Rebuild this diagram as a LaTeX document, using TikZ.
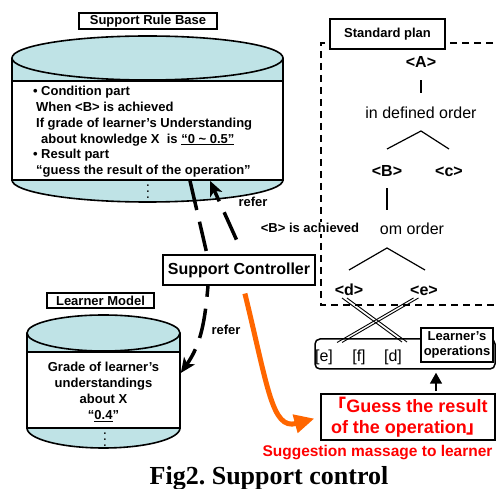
\documentclass[tikz,border=0pt]{standalone}
\usepackage{fontspec}
\setmainfont{Liberation Sans}
\newfontfamily\capfont{Liberation Serif}
\newfontfamily\cjk{Noto Sans CJK JP}
\usetikzlibrary{arrows.meta, positioning}
\definecolor{cylblue}{RGB}{191,227,230}
\definecolor{sugorange}{RGB}{255,102,0}
\frenchspacing

\begin{document}
\begin{tikzpicture}[x=1pt, y=1pt,
		bf/.style={font=\bfseries\fontsize{13}{15.8}\selectfont},
		namebox/.style={draw, line width=1.2pt, fill=white, inner sep=0pt, bf},
		leaf/.style={inner sep=0pt, text height=11pt, text depth=0pt, font=\bfseries\fontsize{16}{18}\selectfont},
		order/.style={inner sep=0pt, text height=11pt, text depth=0pt, font=\fontsize{16}{18}\selectfont},
		refer/.style={line width=3.5pt, dash pattern=on 30pt off 12pt},
		bighead/.style={-{Stealth[length=15pt, width=13pt, inset=4pt]}}]
		\clip (0,0) rectangle (496,488);

		% support rule base
		\fill[cylblue] (12,430) -- (12,308) arc[start angle=180, end angle=360, x radius=135.5, y radius=22] -- (283,430) arc[start angle=0, end angle=180, x radius=135.5, y radius=22] -- cycle;
		\draw[line width=1.6pt] (147.5,430) ellipse [x radius=135.5, y radius=22];
		\draw[line width=1.6pt] (12,430) -- (12,308) arc[start angle=180, end angle=360, x radius=135.5, y radius=22] -- (283,430);
		\node[draw, line width=1.6pt, fill=white, minimum width=271pt, minimum height=99pt, inner sep=0pt] (rule) at (147.5,357.5) {};
		\node[bf, align=left, anchor=north west, inner sep=0pt] (ruletext) at (33,402) {\makebox[8pt][l]{•}Condition part\\
			\hspace*{3pt}When <B> is achieved\\
			\hspace*{3pt}If grade of learner’s Understanding\\
			\hspace*{8pt}about knowledge X\ \ is \underline{“0 \textasciitilde\ 0.5”}\\
			\makebox[8pt][l]{•}Result part\\
			\hspace*{3pt}“guess the result of the operation”};
		\node[inner sep=0pt] (rdots) at (148,301) {\scalebox{1.5}{$\vdots$}};
		\node[namebox, minimum width=138pt, minimum height=16pt] (rulename) at (148,467) {Support Rule Base};

		% learner model
		\fill[cylblue] (27,155) -- (27,60) arc[start angle=180, end angle=360, x radius=76.5, y radius=20] -- (180,155) arc[start angle=0, end angle=180, x radius=76.5, y radius=18] -- cycle;
		\draw[line width=1.6pt] (103.5,155) ellipse [x radius=76.5, y radius=18];
		\draw[line width=1.6pt] (27,155) -- (27,60) arc[start angle=180, end angle=360, x radius=76.5, y radius=20] -- (180,155);
		\node[draw, line width=1.6pt, fill=white, minimum width=153pt, minimum height=76pt, inner sep=0pt] (model) at (103.5,98) {};
		\node[bf, align=center, inner sep=0pt] (modeltext) at (103.5,96) {Grade of learner’s\\understandings\\about X\\“\underline{0.4}”};
		\node[inner sep=0pt] (mdots) at (105,53) {\scalebox{1.5}{$\vdots$}};
		\node[namebox, minimum width=107pt, minimum height=15pt] (modelname) at (100.5,187.5) {Learner Model};

		% standard plan
		\draw[line width=1.6pt, dash pattern=on 7pt off 5pt] (505,445) -- (321,445) -- (321,183) -- (505,183);
		\node[namebox, minimum width=115pt, minimum height=30pt] (plan) at (387.5,454) {Standard plan};
		\node[leaf] (A) at (421,426) {<A>};
		\node[order] (ord1) at (421,375) {in defined order};
		\node[leaf] (B) at (387,317) {<B>};
		\node[leaf] (c) at (449,317) {<c>};
		\node[order] (ord2) at (412,259) {om order};
		\node[leaf] (d) at (349,198) {<d>};
		\node[leaf] (e) at (424,198) {<e>};
		\coordinate (ap1) at (421,357);
		\coordinate (br1) at (387,339);
		\coordinate (br2) at (449,339);
		\coordinate (ap2) at (387,240);
		\coordinate (br3) at (349,218);
		\coordinate (br4) at (425,218);
		\draw[line width=1.2pt, shorten <=12.5pt, shorten >=14.5pt] (A.south) -- (ord1.north);
		\draw[line width=1.2pt] (br1) -- (ap1) -- (br2);
		\draw[line width=1.2pt, shorten <=11.5pt, shorten >=13.5pt] (B.south) -- (B.south |- ord2.north);
		\draw[line width=1.2pt] (br3) -- (ap2) -- (br4);

		% learner's operations
		\node[draw, line width=1.5pt, rounded corners=5pt, minimum width=180pt, minimum height=30pt] (frame) at (405,134) {};
		\foreach \t/\x in {e/324, f/359, d/393}{
			\node[order] (o\t) at (\x,132) {[\t]};
		}
		\node[namebox, minimum width=72pt, minimum height=34pt, align=center, font=\bfseries\fontsize{13}{15}\selectfont] (ops) at (457,143) {Learner’s\\operations};
		\coordinate (xd1) at (344.5,190);
		\coordinate (xd2) at (404.5,146);
		\coordinate (xe1) at (416,190);
		\coordinate (xe2) at (339.5,145.5);
		\foreach \s in {-2.5,2.5}{
			\draw[line width=0.9pt] ([xshift=\s pt]xd1) -- ([xshift=\s pt]xd2);
			\draw[line width=0.9pt] ([xshift=\s pt]xe1) -- ([xshift=\s pt]xe2);
		}

		% controller and message
		\node[draw, line width=1.6pt, fill=white, minimum width=152pt, minimum height=30pt, font=\bfseries\fontsize{16}{18}\selectfont] (ctrl) at (239,218) {Support Controller};
		\node[draw, line width=1.6pt, fill=white, minimum width=174pt, minimum height=46pt, inner sep=0pt, align=center, text=red, font=\bfseries\fontsize{18}{21}\selectfont] (sugg) at (408,71) {{\cjk 「}Guess the result\\of the operation{\cjk 」}};
		\node[text=red, font=\bfseries\fontsize{15.5}{18}\selectfont] (msg) at (377.5,35) {Suggestion massage to learner};
		\node[font=\capfont\bfseries\fontsize{26}{30}\selectfont, anchor=base] (cap) at (269,4) {Fig2. Support control};

		% refer arrows
		\draw[refer] ([xshift=42.5pt]rule.south) -- ([xshift=-32pt]ctrl.north);
		\draw[refer, bighead, shorten <=16pt] ([xshift=4pt]ctrl.north) -- ([xshift=62.5pt]rule.south);
		\node[bf] (refer1) at (253,286) {refer};
		\draw[refer, bighead, dash phase=19pt] ([xshift=-31pt]ctrl.south) to[out=-95, in=55] ([yshift=17pt]model.east);
		\node[bf] (refer2) at (226,158) {refer};
		\node[bf, fill=white, inner sep=1pt] (ach) at (310,260) {<B> is achieved};

		% suggestion arrows
		\draw[line width=5pt, sugorange, -{Triangle[length=20pt, width=18pt]}, shorten <=8pt, shorten >=6pt] ([xshift=4pt]ctrl.south) .. controls (268,100) and (272,58) .. (sugg.west);
		\draw[line width=1.6pt, -{Triangle[length=11pt, width=12pt]}, shorten <=2pt, shorten >=3pt] ([xshift=28pt]sugg.north) -- ([xshift=31pt]frame.south);
	\end{tikzpicture}
\end{document}
